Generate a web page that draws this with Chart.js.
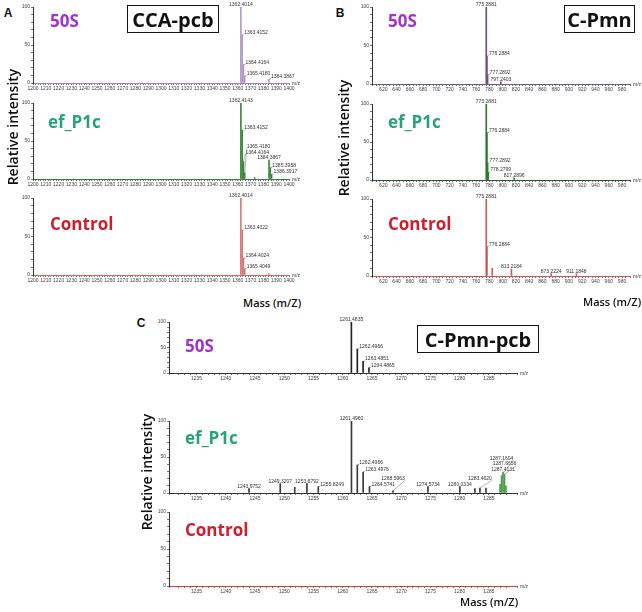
<!DOCTYPE html>
<html>
<head>
<meta charset="utf-8">
<script src="https://cdn.jsdelivr.net/npm/chart.js@4.4.0/dist/chart.umd.min.js"></script>
<style>
body { margin: 0; background: #fff; }
#fig { position: relative; width: 642px; height: 612px; overflow: hidden; font-family: "Open Sans", sans-serif; color: #111; }
#fig canvas, #fig div { position: absolute; }
.tag { font-weight: 700; font-size: 17px; line-height: 1; transform: translateY(-50%); white-space: nowrap; }
.box { border: 1.5px solid #111; font-weight: 700; font-size: 20px; display: flex; align-items: center; justify-content: center; box-sizing: border-box; }
.letter { font-family: "Liberation Sans", Arial, sans-serif; font-weight: 700; font-size: 12px; line-height: 1; transform: translate(-50%, -50%); }
.ylab { font-size: 14px; font-weight: 600; white-space: nowrap; line-height: 1; transform: translate(-50%, -50%) rotate(-90deg); }
.xlab { font-size: 11px; font-weight: 600; white-space: nowrap; line-height: 1; transform: translateY(-50%); }
</style>
</head>
<body>
<div id="fig">
	<canvas id="a1"></canvas><canvas id="a2"></canvas><canvas id="a3"></canvas>
	<canvas id="b1"></canvas><canvas id="b2"></canvas><canvas id="b3"></canvas>
	<canvas id="c1"></canvas><canvas id="c2"></canvas><canvas id="c3"></canvas>

	<div class="letter" style="left:8px;top:13px">A</div>
	<div class="letter" style="left:340px;top:13px">B</div>
	<div class="letter" style="left:141px;top:323px">C</div>

	<div class="tag" style="left:50px;top:20px;color:#a033c8">50S</div>
	<div class="tag" style="left:48px;top:121px;color:#27a477">ef_P1c</div>
	<div class="tag" style="left:50px;top:223px;color:#cc1f2e">Control</div>
	<div class="tag" style="left:388px;top:20px;color:#a033c8">50S</div>
	<div class="tag" style="left:388px;top:121px;color:#27a477">ef_P1c</div>
	<div class="tag" style="left:388px;top:223px;color:#cc1f2e">Control</div>
	<div class="tag" style="left:185px;top:345px;color:#a033c8">50S</div>
	<div class="tag" style="left:185px;top:437px;color:#27a477">ef_P1c</div>
	<div class="tag" style="left:185px;top:529px;color:#cc1f2e">Control</div>

	<div class="box" style="left:127px;top:5px;width:92px;height:28px">CCA-pcb</div>
	<div class="box" style="left:564px;top:5px;width:71px;height:28px">C-Pmn</div>
	<div class="box" style="left:417px;top:325px;width:122px;height:28px">C-Pmn-pcb</div>

	<div class="ylab" style="left:13px;top:127px">Relative intensity</div>
	<div class="ylab" style="left:344px;top:138px">Relative intensity</div>
	<div class="ylab" style="left:147px;top:472px">Relative intensity</div>

	<div class="xlab" style="left:243px;top:302px">Mass (m/Z)</div>
	<div class="xlab" style="left:583px;top:301px">Mass (m/Z)</div>
	<div class="xlab" style="left:460px;top:601px">Mass (m/Z)</div>
</div>

<script>
"use strict"

// DATA -----------------------
// A: CCA-pcb
const ccaRange = [1200, 1400]
const cca50sMz = [1362.4014, 1363.4152, 1364.4164, 1365.418, 1384.3867]
const cca50sInt = [100, 63, 24, 9, 5]
const cca50sLabels = ["1362.4014", "1363.4152", "1364.4164", "1365.4180", "1384.3867"]

const ccaEfMz = [1362.4143, 1363.4152, 1364.4164, 1365.418, 1373.2, 1384.3867, 1385.3958, 1386.3917]
const ccaEfInt = [100, 64, 23, 8, 2, 25, 15, 6]
const ccaEfLabels = ["1362.4143", "1363.4152", "1364.4164", "1365.4180", "", "1384.3867", "1385.3958", "1386.3917"]

const ccaCtrlMz = [1362.4014, 1363.4022, 1364.4024, 1365.4049, 1384.3]
const ccaCtrlInt = [100, 58, 22, 8, 2]
const ccaCtrlLabels = ["1362.4014", "1363.4022", "1364.4024", "1365.4049", ""]

// B: C-Pmn
const pmnRange = [603, 992]
const pmn50sMz = [775.2881, 776.2884, 777.2892, 797.2403]
const pmn50sInt = [100, 36, 12, 3]
const pmn50sLabels = ["775.2881", "776.2884", "777.2892", "797.2403"]

const pmnEfMz = [775.2881, 776.2884, 777.2892, 778.2799, 817.2896]
const pmnEfInt = [100, 62, 22, 10, 3]
const pmnEfLabels = ["775.2881", "776.2884", "777.2892", "778.2799", "817.2896"]

const pmnCtrlMz = [775.2881, 776.2884, 784.3, 813.2184, 873.2224, 911.1848]
const pmnCtrlInt = [100, 38, 10, 9, 3, 3]
const pmnCtrlLabels = ["775.2881", "776.2884", "", "813.2184", "873.2224", "911.1848"]

// C: C-Pmn-pcb
const pcbRange = [1230.3, 1289.8]
const pcb50sMz = [1261.4835, 1262.4966, 1263.4851, 1264.4865]
const pcb50sInt = [100, 47, 23, 10]
const pcb50sLabels = ["1261.4835", "1262.4966", "1263.4851", "1264.4865"]

const pcbEfMz = [1243.9752, 1249.3207, 1251.8, 1253.8792, 1255.8249, 1261.496, 1262.4966, 1263.4976, 1264.5741,
	1268.5963, 1274.5734, 1280.0334, 1282.6, 1283.462, 1284.5, 1286.9, 1287.1604, 1287.4131, 1287.6656, 1287.9]
const pcbEfInt = [6, 13, 8, 13, 9, 100, 39, 29, 9, 3, 9, 9, 6, 7, 7, 12, 24, 29, 26, 10]
const pcbEfLabels = ["1243.9752", "1249.3207", "", "1253.8792", "1255.8249", "1261.4960", "1262.4966", "1263.4976", "1264.5741",
	"1268.5963", "1274.5734", "1280.0334", "", "1283.4620", "", "", "1287.1604", "1287.4131", "1287.6656", ""]

const pcbCtrlMz = []
const pcbCtrlInt = []
const pcbCtrlLabels = []

// PLUGIN -----------------------
// peak annotations (Xcalibur style) + "m/z" at the end of the axis
const peakLabels = {
	id: "peakLabels",
	afterDatasetsDraw(chart) {
		const ctx = chart.ctx
		const area = chart.chartArea
		const ds = chart.data.datasets[0]
		const bars = chart.getDatasetMeta(0).data
		ctx.save()
		ctx.font = '5px "Liberation Sans", Arial'
		ctx.fillStyle = "#333"
		ctx.strokeStyle = "#666"
		ctx.lineWidth = 0.5
		ctx.fillText("m/z", area.right + 3, area.bottom + 2)

		const placed = []
		const hit = (r) =>
			placed.some((p) => r.x < p.x + p.w && r.x + r.w > p.x && r.y < p.y + p.h && r.y + r.h > p.y) ||
			bars.some((b) => b.x >= r.x - 0.7 && b.x <= r.x + r.w + 0.7 && b.y < r.y + r.h)
		const order = bars.map((b, i) => i).sort((a, b) => bars[a].y - bars[b].y)

		for (const i of order) {
			const text = ds.peakLabels[i]
			if (!text) continue
			const b = bars[i]
			const tw = ctx.measureText(text).width
			const th = 5
			let box = null
			for (let lift = 1; lift < 60 && !box; lift++) {
				for (const dx of [-tw / 2, 2, -tw - 2]) {
					const r = { x: b.x + dx, y: b.y - lift - th, w: tw, h: th }
					if (!hit(r)) {
						box = r
						break
					}
				}
			}
			if (!box) continue
			placed.push(box)
			ctx.fillText(text, box.x, box.y + th)
			if (Math.abs(box.x + tw / 2 - b.x) > 0.5 || box.y + th < b.y - 2) {
				ctx.beginPath()
				ctx.moveTo(b.x, b.y)
				ctx.lineTo(box.x + (box.x > b.x ? 0 : tw), box.y + th + 0.5)
				ctx.stroke()
			}
		}
		ctx.restore()
	},
}

Chart.defaults.font.family = '"Liberation Sans", Arial, sans-serif'

// CHARTS -----------------------
function spectrum(id, area, range, step, every, mz, inten, labels, peakColor, baseColor) {
	const canvas = document.getElementById(id)
	const left = area[0] - 14
	const top = area[1] - 8
	canvas.width = area[2] - left + 14
	canvas.height = area[3] - top + 10
	canvas.style.left = left + "px"
	canvas.style.top = top + "px"

	const lo = range[0]
	const hi = range[1]

	return new Chart(canvas.getContext("2d"), {
		type: "bar",
		data: {
			datasets: [
				{
					data: mz.map((x, i) => ({ x: x, y: inten[i] })),
					peakLabels: labels,
					backgroundColor: peakColor,
					barThickness: 1,
				},
			],
		},
		options: {
			responsive: false,
			animation: false,
			events: [],
			layout: { padding: { top: 8, right: 14, left: 0, bottom: 0 } },
			plugins: { legend: { display: false }, tooltip: { enabled: false } },
			scales: {
				x: {
					type: "linear",
					min: lo,
					max: hi,
					offset: false,
					border: { color: baseColor, width: 1 },
					grid: { drawOnChartArea: false, offset: false, tickLength: 2, color: "#777" },
					ticks: {
						stepSize: step,
						autoSkip: false,
						maxRotation: 0,
						minRotation: 0,
						padding: 1,
						color: "#444",
						font: { size: 5 },
						callback: (v) => {
							const r = Math.round(v)
							if (Math.abs(v - r) > 1e-6 || r % every !== 0) return ""
							return r
						},
					},
					afterFit: (s) => {
						s.height = 10
					},
				},
				y: {
					min: 0,
					max: 100,
					border: { color: "#333", width: 1 },
					grid: { drawOnChartArea: false, tickLength: 2, color: "#777" },
					ticks: {
						stepSize: 10,
						autoSkip: false,
						padding: 1,
						color: "#444",
						font: { size: 5 },
						callback: (v) => (v % 50 === 0 ? v : ""),
					},
					afterFit: (s) => {
						s.width = 14
					},
				},
			},
		},
		plugins: [peakLabels],
	})
}

spectrum("a1", [33, 7, 289, 83], ccaRange, 2, 10, cca50sMz, cca50sInt, cca50sLabels, "#b49ac8", "#9f86bb")
spectrum("a2", [33, 103, 289, 179], ccaRange, 2, 10, ccaEfMz, ccaEfInt, ccaEfLabels, "#3d8a3d", "#3d7a3d")
spectrum("a3", [33, 198, 289, 275], ccaRange, 2, 10, ccaCtrlMz, ccaCtrlInt, ccaCtrlLabels, "#d77a7a", "#d06a6a")

spectrum("b1", [372, 7, 630, 84], pmnRange, 5, 20, pmn50sMz, pmn50sInt, pmn50sLabels, "#6e4f82", "#6e5a7a")
spectrum("b2", [372, 104, 630, 180], pmnRange, 5, 20, pmnEfMz, pmnEfInt, pmnEfLabels, "#2e7a2e", "#2e5a2e")
spectrum("b3", [372, 199, 630, 276], pmnRange, 5, 20, pmnCtrlMz, pmnCtrlInt, pmnCtrlLabels, "#c85a5a", "#c85a5a")

spectrum("c1", [169, 322, 517, 373], pcbRange, 1, 5, pcb50sMz, pcb50sInt, pcb50sLabels, "#222", "#333")
spectrum("c2", [169, 421, 517, 493], pcbRange, 1, 5, pcbEfMz, pcbEfInt, pcbEfLabels,
	(c) => (c.raw && c.raw.x > 1286.5 ? "#4f9a4f" : "#3a3a3a"), "#333")
spectrum("c3", [169, 512, 517, 586], pcbRange, 1, 5, pcbCtrlMz, pcbCtrlInt, pcbCtrlLabels, "#d04040", "#d04040")
</script>
</body>
</html>
